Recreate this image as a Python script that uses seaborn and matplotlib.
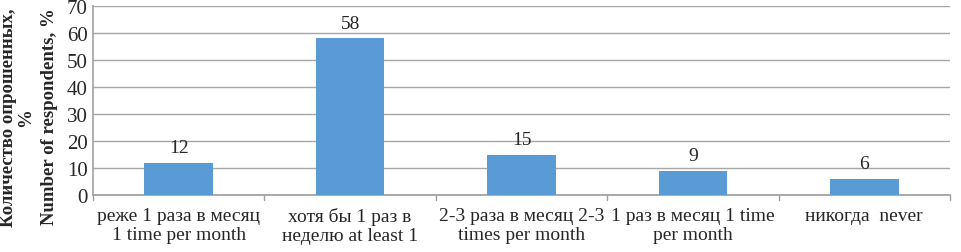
import matplotlib
matplotlib.use("Agg")
import matplotlib.pyplot as plt
import seaborn as sns
import pandas as pd

categories = [
    "реже 1 раза в месяц\n1 time per month",
    "хотя бы 1 раз в\nнеделю at least 1",
    "2-3 раза в месяц 2-3\ntimes per month",
    "1 раз в месяц 1 time\nper month",
    "никогда  never",
]
values = [12, 58, 15, 9, 6]
yticks = [0, 10, 20, 30, 40, 50, 60, 70]

sns.set_theme(style="white")
plt.rcParams["font.family"] = ["Liberation Serif", "DejaVu Serif"]

df = pd.DataFrame({"cat": categories, "val": values})

fig = plt.figure(figsize=(9.61, 2.53), dpi=100)
ax = fig.add_axes([93 / 961, 1 - 196 / 253, (950 - 93) / 961, (196 - 7) / 253])

sns.barplot(data=df, x="cat", y="val", color="#5B9BD5", width=0.4,
            saturation=1, linewidth=0, edgecolor="none", ax=ax, zorder=3)

ax.set_ylim(0, 70)
ax.set_yticks(yticks)
ax.set_yticklabels([str(t) for t in yticks], fontsize=15)
ax.set_xlim(-0.5, len(categories) - 0.5)
ax.set_xticks(range(len(categories)))
ax.set_xticklabels(categories, fontsize=14, linespacing=1.15)
ax.tick_params(axis="x", length=0, pad=9)
ax.tick_params(axis="y", length=0, pad=4)

# category boundary ticks
for b in range(len(categories) + 1):
    ax.plot([b - 0.5, b - 0.5], [0, -1.8], color="#a0a0a0", lw=1, clip_on=False)

ax.yaxis.grid(True, color="#a6a6a6", lw=1, zorder=0)
for s in ["top", "right"]:
    ax.spines[s].set_visible(False)
ax.spines["left"].set_color("#a6a6a6")
ax.spines["bottom"].set_color("#a0a0a0")
ax.set_xlabel("")
ax.set_ylabel("")

for i, v in enumerate(values):
    ax.text(i, v + 2.5, str(v), ha="center", va="bottom", fontsize=14)

fig.text(17 / 961, 1 - 118 / 253, "Количество опрошенных,\n%", rotation=90,
         ha="center", va="center", fontsize=13.5, fontweight="bold", linespacing=1.0)
fig.text(50 / 961, 1 - 117 / 253, "Number of respondents, %", rotation=90,
         ha="center", va="center", fontsize=13.5, fontweight="bold")

fig.savefig("out.png", dpi=100)
